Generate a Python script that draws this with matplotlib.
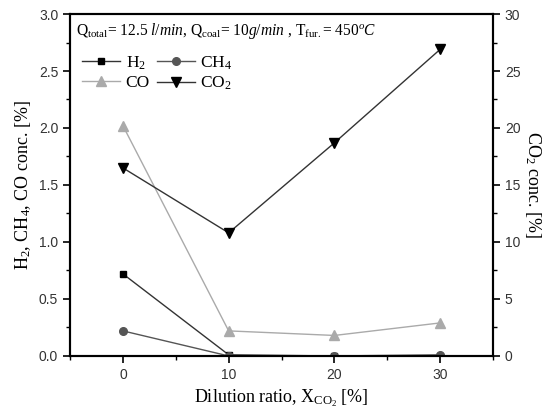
import matplotlib.pyplot as plt
from matplotlib.ticker import MultipleLocator

# ----------------------------
# DATA
# ----------------------------
dilution = [0, 10, 20, 30]
h2 = [0.72, 0.01, 0.0, 0.0]
ch4 = [0.22, 0.0, 0.0, 0.01]
co = [2.02, 0.22, 0.18, 0.29]
co2 = [16.5, 10.8, 18.7, 26.9]

serif = 'Liberation Serif'
sans = 'Liberation Sans'

plt.rcParams['mathtext.fontset'] = 'custom'
plt.rcParams['mathtext.rm'] = serif
plt.rcParams['mathtext.it'] = serif + ':italic'

fig = plt.figure(figsize=(5.43, 4.12), dpi=100)
ax = fig.add_axes([0.129, 0.136, 0.779, 0.830])
ax2 = ax.twinx()

l1, = ax.plot(dilution, h2, color='#333333', lw=1, marker='s', ms=5, mfc='black', mec='black', label='H$_2$')
l2, = ax.plot(dilution, ch4, color='#555555', lw=1, marker='o', ms=5.5, mfc='#555555', mec='#555555', label='CH$_4$')
l3, = ax.plot(dilution, co, color='#aaaaaa', lw=1, marker='^', ms=6.5, mfc='#aaaaaa', mec='#aaaaaa', label='CO')
l4, = ax2.plot(dilution, co2, color='#333333', lw=1, marker='v', ms=6.5, mfc='black', mec='black', label='CO$_2$')

ax.set_xlim(-5, 35)
ax.set_ylim(0, 3.0)
ax2.set_ylim(0, 30)

ax.xaxis.set_major_locator(MultipleLocator(10))
ax.xaxis.set_minor_locator(MultipleLocator(5))
ax.yaxis.set_major_locator(MultipleLocator(0.5))
ax.yaxis.set_minor_locator(MultipleLocator(0.25))
ax2.yaxis.set_major_locator(MultipleLocator(5))
ax2.yaxis.set_minor_locator(MultipleLocator(2.5))
ax.yaxis.set_major_formatter(plt.FormatStrFormatter('%.1f'))

for a in (ax, ax2):
    for s in a.spines.values():
        s.set_linewidth(1.5)
    a.tick_params(which='major', length=5, width=1.2, labelsize=10, direction='out')
    a.tick_params(which='minor', length=3, width=1.0, direction='out')
    for lab in a.get_xticklabels() + a.get_yticklabels():
        lab.set_fontfamily(sans)
        lab.set_color('#333333')

ax.set_xlabel('Dilution ratio, X$_{\\mathregular{CO_2}}$ [%]', fontfamily=serif, fontsize=13)
ax.set_ylabel('H$_2$, CH$_4$, CO conc. [%]', fontfamily=serif, fontsize=13)
ax2.set_ylabel('CO$_2$ conc. [%]', fontfamily=serif, fontsize=13, rotation=270, labelpad=16)

ax.text(-4.4, 2.82, 'Q$_{\\mathregular{total}}$= 12.5 $l/min$, Q$_{\\mathregular{coal}}$= 10$g/min$ , T$_{\\mathregular{fur.}}$= 450$^o$$C$',
        fontfamily=serif, fontsize=11.2, va='baseline')

# row-wise order: H2, CH4 / CO, CO2
ax.legend(handles=[l1, l3, l2, l4], ncol=2, loc='upper left', bbox_to_anchor=(0.0, 0.918),
          frameon=False, prop={'family': serif, 'size': 12.5}, handlelength=2.2,
          handletextpad=0.3, columnspacing=0.4, labelspacing=0.2, borderaxespad=0.3)

fig.savefig('out.png', dpi=100)
